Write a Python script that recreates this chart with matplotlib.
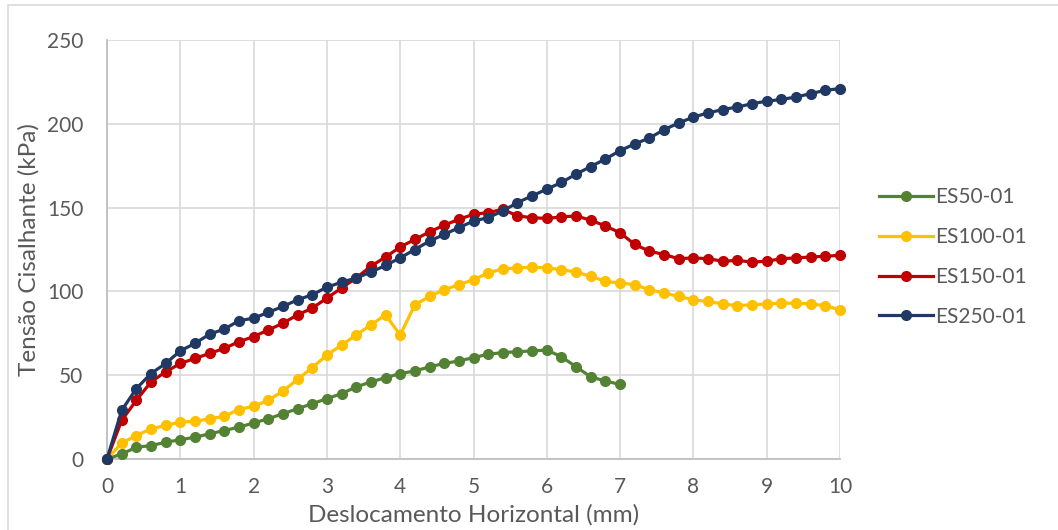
import numpy as np
import matplotlib
matplotlib.use("Agg")
import matplotlib.pyplot as plt
from matplotlib.patches import Rectangle

plt.rcParams['font.family'] = ['Lato', 'DejaVu Sans']

# deslocamento horizontal (mm), leituras a cada 0.2 mm
desloc = np.round(np.arange(0, 10.01, 0.2), 1)

es50 = [0, 3, 7, 8, 10, 11.5, 13, 15, 17, 19, 21.5, 24, 27, 30, 33, 36, 39,
        43, 46, 48.5, 51, 52.5, 55, 57, 58.5, 60.5, 62.5, 63.5, 64, 64.5, 65,
        61, 55, 49, 46.5, 44.5]

es100 = [0, 9.5, 14, 18, 20, 22, 22.5, 24, 25.5, 29.5, 31.5, 35, 40.5, 47.5,
         54.5, 62, 68, 74, 80, 86, 74, 92, 97, 101, 104, 107, 111, 113.5, 114,
         114.5, 114, 113, 111.5, 109, 106, 105, 104, 101, 99, 97, 95, 94,
         92.5, 91.5, 92, 92.5, 93, 93, 92.5, 91.5, 89]

es150 = [0, 23, 35, 46, 52, 57, 60, 63, 66, 70, 73, 77, 81, 86, 90, 96, 102,
         108, 115, 120.5, 126.5, 131, 135.5, 139.5, 143, 146, 147, 149, 145,
         144, 143.5, 144.5, 145, 142.5, 139, 135, 128, 124, 122, 119.5, 120,
         119.5, 118, 118.5, 117.5, 118, 119.5, 120, 120.5, 121, 121.5]

es250 = [0, 29, 42, 51, 57, 64.5, 69, 74.5, 77.5, 82.5, 84, 87.5, 91, 95, 98,
         102.5, 105.5, 108, 111.5, 115.5, 120, 125, 130, 134, 138, 142, 144,
         148, 153, 157, 161, 165, 170, 174.5, 179, 184, 188, 191.5, 196.5,
         200.5, 204, 206.5, 208.5, 210, 212, 213.5, 214.5, 216, 218, 220, 221]

series = [
    ("ES50-01", es50, "#548235"),
    ("ES100-01", es100, "#FFC000"),
    ("ES150-01", es150, "#C00000"),
    ("ES250-01", es250, "#203864"),
]

text_color = "#595959"

fig = plt.figure(figsize=(10.58, 5.30), dpi=100)
ax = fig.add_axes([107 / 1058, 1 - 459 / 530, (840 - 107) / 1058, (459 - 40) / 530])

# moldura do gráfico
fig.patches.append(Rectangle((8 / 1058, -0.1), 1.2, 1 - 5 / 530 + 0.1,
                             transform=fig.transFigure, fill=False,
                             edgecolor="#d9d9d9", linewidth=1.2))

for name, vals, color in series:
    ax.plot(desloc[:len(vals)], vals, color=color, linewidth=2.3,
            marker="o", markersize=7, label=name, clip_on=False, zorder=3)

ax.set_xlim(0, 10)
ax.set_ylim(0, 250)
ax.set_xticks(range(0, 11))
ax.set_yticks(range(0, 251, 50))
ax.grid(True, color="#d9d9d9", linewidth=1.2)
ax.set_axisbelow(True)

for side in ["top", "right"]:
    ax.spines[side].set_visible(False)
for side in ["left", "bottom"]:
    ax.spines[side].set_color("#bfbfbf")
    ax.spines[side].set_linewidth(1.3)

ax.tick_params(axis="both", length=0, labelsize=15, colors=text_color)
ax.tick_params(axis="x", pad=13)
ax.tick_params(axis="y", pad=17)

ax.set_xlabel("Deslocamento Horizontal (mm)", fontsize=17.5, color=text_color, labelpad=5)
ax.set_ylabel("Tensão Cisalhante (kPa)", fontsize=17.5, color=text_color, labelpad=5)

leg = ax.legend(loc="center left", bbox_to_anchor=(1.028, 0.482), frameon=False,
                fontsize=15, labelspacing=0.95, handlelength=2.6,
                handletextpad=0.1, markerscale=1.0)
for t in leg.get_texts():
    t.set_color(text_color)

fig.savefig("out.png", dpi=100)
